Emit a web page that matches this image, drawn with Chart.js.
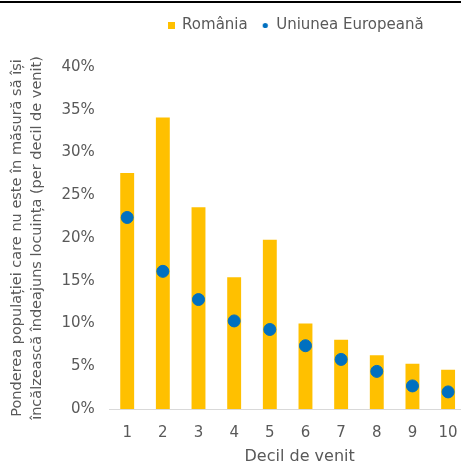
<!DOCTYPE html>
<html>
<head>
<meta charset="utf-8">
<script src="https://cdn.jsdelivr.net/npm/chart.js@4"></script>
<style>
  html, body { margin: 0; padding: 0; background: #fff; }
  #wrap { width: 461px; height: 466px; overflow: hidden; position: relative; }
  #topline { position: absolute; left: 0; top: 1px; width: 461px; height: 0; border-top: 2px solid #000; z-index: 2; }
  canvas { display: block; }
</style>
</head>
<body>
<div id="wrap">
  <div id="topline"></div>
  <canvas id="chart" width="473" height="466"></canvas>
</div>
<script>
// deciles of income
const deciles = ['1', '2', '3', '4', '5', '6', '7', '8', '9', '10'];
// share of population unable to keep home warm (%)
const romania = [27.6, 34.1, 23.6, 15.4, 19.8, 10.0, 8.1, 6.3, 5.3, 4.6];
const ue = [22.4, 16.1, 12.8, 10.3, 9.3, 7.4, 5.8, 4.4, 2.7, 2.0];

const yTitle = [
  'Ponderea populației care nu este în măsură să își',
  'încălzească îndeajuns locuința (per decil de venit)'
];
const xTitle = 'Decil de venit';

const grey = '#595959';
const orange = '#FFC000';
const blue = '#0070C0';
Chart.defaults.font.family = '"DejaVu Sans", sans-serif';
Chart.defaults.color = grey;

// small legend markers: a square for bars and a dot for the points
function marker(color, round) {
  const c = document.createElement('canvas');
  c.width = 7; c.height = 7;
  const g = c.getContext('2d');
  g.fillStyle = color;
  if (round) { g.beginPath(); g.arc(3.5, 3.5, 2.6, 0, Math.PI * 2); g.fill(); }
  else g.fillRect(0, 0, 7, 7);
  return c;
}

// more room under the legend, and legend nudged right like the original
const legendSpace = {
  id: 'legendSpace',
  beforeInit(chart) {
    const fit = chart.legend.fit;
    chart.legend.fit = function () {
      fit.call(this);
      this.height += 24;
    };
  },
  afterLayout(chart) {
    chart.legend.left += 8;
    chart.legend.right += 8;
  }
};

// x axis title, drawn a bit right of the plot centre like the original
const xTitlePlugin = {
  id: 'xTitle',
  afterDraw(chart) {
    const g = chart.ctx;
    const area = chart.chartArea;
    g.save();
    g.font = '16px "DejaVu Sans", sans-serif';
    g.fillStyle = grey;
    g.textAlign = 'center';
    g.textBaseline = 'middle';
    g.fillText(xTitle, (area.left + area.right) / 2 + 12, 457);
    g.restore();
  }
};

const ctx = document.getElementById('chart').getContext('2d');
new Chart(ctx, {
  type: 'bar',
  data: {
    labels: deciles,
    datasets: [
      {
        label: 'România',
        data: romania,
        backgroundColor: orange,
        barPercentage: 0.39,
        categoryPercentage: 1,
        order: 2
      },
      {
        type: 'line',
        label: 'Uniunea Europeană',
        data: ue,
        showLine: false,
        pointStyle: 'circle',
        pointRadius: 6,
        pointBackgroundColor: blue,
        pointBorderColor: blue,
        backgroundColor: blue,
        borderColor: blue,
        order: 1
      }
    ]
  },
  options: {
    responsive: false,
    animation: false,
    layout: { padding: { top: 4, left: 7, right: 0, bottom: 9 } },
    plugins: {
      legend: {
        position: 'top',
        fullSize: false,
        labels: {
          usePointStyle: true,
          boxWidth: 7,
          boxHeight: 7,
          padding: 14,
          font: { size: 15 },
          color: grey,
          sort: (a, b) => a.datasetIndex - b.datasetIndex,
          generateLabels(chart) {
            const items = Chart.defaults.plugins.legend.labels.generateLabels(chart);
            items.forEach(it => {
              it.pointStyle = it.datasetIndex === 0 ? marker(orange, false) : marker(blue, true);
            });
            return items;
          }
        }
      },
      tooltip: { enabled: false }
    },
    scales: {
      x: {
        grid: { display: false, drawTicks: false },
        border: { color: '#d9d9d9', width: 1 },
        ticks: { font: { size: 15 }, color: grey, padding: 15 }
      },
      y: {
        min: 0,
        max: 40,
        grid: { display: false, drawTicks: false },
        border: { display: false },
        ticks: {
          stepSize: 5,
          font: { size: 15 },
          color: grey,
          padding: 14.5,
          callback: v => v + '%'
        },
        title: {
          display: true,
          text: yTitle,
          font: { size: 14.5, lineHeight: 1.38 },
          color: grey,
          padding: { top: 0, bottom: 0 }
        }
      }
    }
  },
  plugins: [legendSpace, xTitlePlugin]
});
</script>
</body>
</html>
